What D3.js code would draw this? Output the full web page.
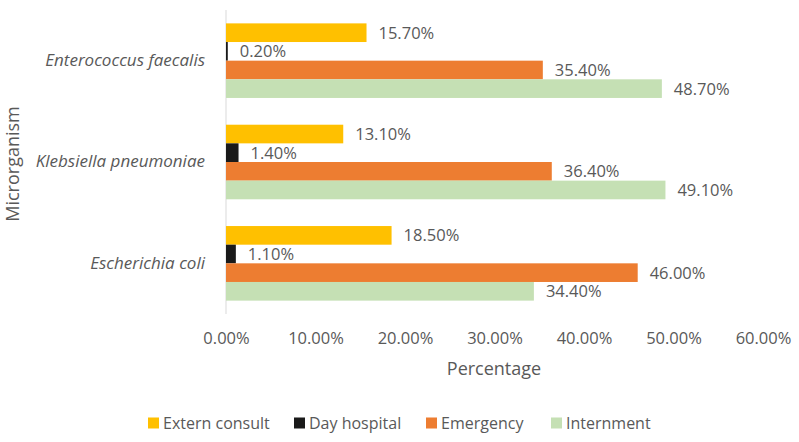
<!DOCTYPE html>
<html>
<head>
    <title>Microorganism by service</title>
    <script src="https://d3js.org/d3.v7.min.js"></script>
    <style>
        body { margin: 0; background: #fff; }
        text { font-family: "Open Sans", sans-serif; fill: #595959; }
    </style>
</head>
<body>
    <div id="chart"></div>

    <script>
        // Data (percent values)
        const organisms = ["Enterococcus faecalis", "Klebsiella pneumoniae", "Escherichia coli"];
        const series = ["Extern consult", "Day hospital", "Emergency", "Internment"];
        const externConsult = [15.7, 13.1, 18.5];
        const dayHospital = [0.2, 1.4, 1.1];
        const emergency = [35.4, 36.4, 46.0];
        const internment = [48.7, 49.1, 34.4];
        const xTicks = [0, 10, 20, 30, 40, 50, 60];
        const colors = ["#FFC000", "#1A1A1A", "#ED7D31", "#C5E0B4"];

        const values = [externConsult, dayHospital, emergency, internment];

        const width = 799;
        const height = 442;
        const plot = { left: 226, right: 763, top: 10, bottom: 314 };

        const svg = d3.select("#chart")
            .append("svg")
            .attr("width", width)
            .attr("height", height);

        // Scales
        const x = d3.scaleLinear()
            .domain([0, 60])
            .range([plot.left, plot.right]);

        const y = d3.scaleBand()
            .domain(organisms)
            .range([plot.top, plot.bottom])
            .paddingInner(0.264)
            .paddingOuter(0.132);

        const inner = d3.scaleBand()
            .domain(series)
            .range([0, y.bandwidth()]);

        // Y axis line
        svg.append("line")
            .attr("x1", x(0)).attr("x2", x(0))
            .attr("y1", plot.top).attr("y2", plot.bottom)
            .attr("stroke", "#D9D9D9")
            .attr("stroke-width", 1);

        // Bars
        const groups = svg.selectAll("g.group")
            .data(organisms)
            .join("g")
            .attr("class", "group")
            .attr("transform", d => `translate(0,${y(d)})`);

        series.forEach((s, si) => {
            groups.append("rect")
                .attr("x", x(0))
                .attr("y", inner(s))
                .attr("width", (d, i) => x(values[si][i]) - x(0))
                .attr("height", inner.bandwidth())
                .attr("fill", colors[si]);

            groups.append("text")
                .attr("x", (d, i) => x(values[si][i]) + 12)
                .attr("y", inner(s) + inner.bandwidth() / 2)
                .attr("dy", "0.36em")
                .attr("font-size", 16.5)
                .text((d, i) => values[si][i].toFixed(2) + "%");
        });

        // Category labels
        const yAxis = d3.axisLeft(y).tickSize(0).tickPadding(21);
        const yG = svg.append("g")
            .attr("transform", `translate(${x(0)},0)`)
            .call(yAxis);
        yG.select(".domain").remove();
        yG.selectAll("text")
            .attr("font-size", 17)
            .attr("font-style", "italic")
            .style("font-family", "'Open Sans', sans-serif")
            .attr("fill", "#595959");

        // X axis tick labels
        const xAxis = d3.axisBottom(x)
            .tickValues(xTicks)
            .tickSize(0)
            .tickPadding(18)
            .tickFormat(d => d.toFixed(2) + "%");
        const xG = svg.append("g")
            .attr("transform", `translate(0,${plot.bottom})`)
            .call(xAxis);
        xG.select(".domain").remove();
        xG.selectAll("text")
            .attr("font-size", 16.5)
            .style("font-family", "'Open Sans', sans-serif")
            .attr("fill", "#595959");

        // Axis titles
        svg.append("text")
            .attr("x", 494)
            .attr("y", 375)
            .attr("text-anchor", "middle")
            .attr("font-size", 18)
            .text("Percentage");

        svg.append("text")
            .attr("transform", "translate(19,164) rotate(-90)")
            .attr("text-anchor", "middle")
            .attr("font-size", 18)
            .text("Microrganism");

        // Legend
        const legendX = [148, 294, 426, 551];
        const legend = svg.selectAll("g.legend")
            .data(series)
            .join("g")
            .attr("class", "legend")
            .attr("transform", (d, i) => `translate(${legendX[i]},423)`);

        legend.append("rect")
            .attr("x", 0).attr("y", -5.5)
            .attr("width", 11).attr("height", 11)
            .attr("fill", (d, i) => colors[i]);

        legend.append("text")
            .attr("x", 15)
            .attr("y", 0)
            .attr("dy", "0.36em")
            .attr("font-size", 16)
            .text(d => d);
    </script>
</body>
</html>
